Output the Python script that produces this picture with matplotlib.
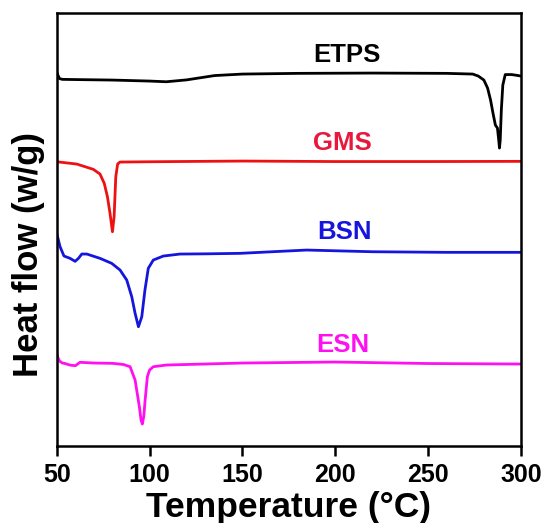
import matplotlib
matplotlib.use("Agg")
import matplotlib.pyplot as plt

plt.rcParams['font.family'] = ['Liberation Sans', 'DejaVu Sans']
plt.rcParams['font.weight'] = 'bold'

# Stacked DSC curves (display units, offset per sample)
etps_T = [50, 50.6, 51.5, 53, 60, 80, 100, 109, 120, 135, 150, 180, 220, 260, 274, 277,
          280, 282, 283.6, 285, 286.2, 287.3, 288.0, 288.4, 288.8, 289.4, 290.2, 291.5,
          295, 298.5, 300]
etps_hf = [374.5, 371, 367.5, 366.7, 366.5, 366, 365, 364.3, 366.2, 370.5, 372, 372.7,
           373, 372.7, 372, 370, 366, 358, 346, 332, 321, 318, 306, 298, 306, 336, 361,
           371.5, 371.5, 370.5, 370]

gms_T = [50, 60.8, 69.7, 73.3, 75.6, 77.3, 78.7, 80.0, 80.9, 81.8, 82.8, 84, 100, 150,
         200, 250, 300]
gms_hf = [284.3, 282, 276.7, 272, 262.7, 249.3, 232.7, 214.3, 229.3, 269.3, 282, 284,
          284.3, 285, 284.5, 284.5, 284.7]

bsn_T = [50, 51.8, 53.9, 57.2, 59.9, 61.7, 63.5, 66.2, 73.3, 79.6, 84.1, 87.7, 90.4,
         92.2, 94, 95.8, 97.5, 99.3, 102, 107.4, 116.4, 130, 148.7, 184.6, 220, 260, 300]
bsn_hf = [212.7, 199.3, 190, 187.7, 184.7, 187.7, 192, 192, 187.7, 182.7, 176, 166,
          149.3, 132.7, 119.3, 129.3, 156, 177.7, 186, 190, 192, 192.2, 192.7, 196,
          194.3, 193.7, 193.7]

esn_T = [50, 50.5, 51.5, 53, 54.5, 57, 60, 62.5, 70, 80, 86, 89.5, 92.2, 94.5, 95.4,
         96.1, 96.9, 97.6, 98.8, 100, 102, 109, 150, 200, 250, 300]
esn_hf = [92.7, 89, 85, 83, 82.5, 81, 80.3, 83.7, 83, 82.7, 81.5, 79.3, 66, 39.3, 26,
          22, 30, 46, 69.3, 76, 79.3, 81, 83, 84, 82.5, 82]

samples = ['ETPS', 'GMS', 'BSN', 'ESN']
line_colors = ['#000000', '#EE1111', '#1515DD', '#FF10F0']
text_colors = ['#000000', '#E8173C', '#1515DD', '#FF10F0']
label_T = [206, 204, 205, 204]
label_hf = [391, 303, 214, 101]

x_ticks = [50, 100, 150, 200, 250, 300]

fig = plt.figure(figsize=(5.47, 5.23), dpi=100)
ax = fig.add_axes([0.1037, 0.1472, 0.8488, 0.8278])

curves = [(etps_T, etps_hf), (gms_T, gms_hf), (bsn_T, bsn_hf), (esn_T, esn_hf)]
for (t, hf), name, lc, tc, lx, ly in zip(curves, samples, line_colors, text_colors,
                                         label_T, label_hf):
    ax.plot(t, hf, color=lc, lw=2.0, solid_joinstyle='round')
    ax.text(lx, ly, name, color=tc, fontsize=18.5, fontweight='bold',
            ha='center', va='center')

ax.set_xlim(50, 300)
ax.set_ylim(0, 433)
ax.set_xticks(x_ticks)
ax.set_yticks([])
ax.tick_params(axis='x', direction='out', length=7, width=1.8, pad=5,
               labelsize=18)
for lab in ax.get_xticklabels():
    lab.set_fontweight('bold')
for sp in ax.spines.values():
    sp.set_linewidth(1.8)

ax.set_xlabel('Temperature (°C)', fontsize=25.5, fontweight='bold', labelpad=3)
ax.set_ylabel('Heat flow (w/g)', fontsize=25, fontweight='bold')
ax.yaxis.set_label_coords(-0.025, 0.443)

fig.savefig('out.png', dpi=100)
